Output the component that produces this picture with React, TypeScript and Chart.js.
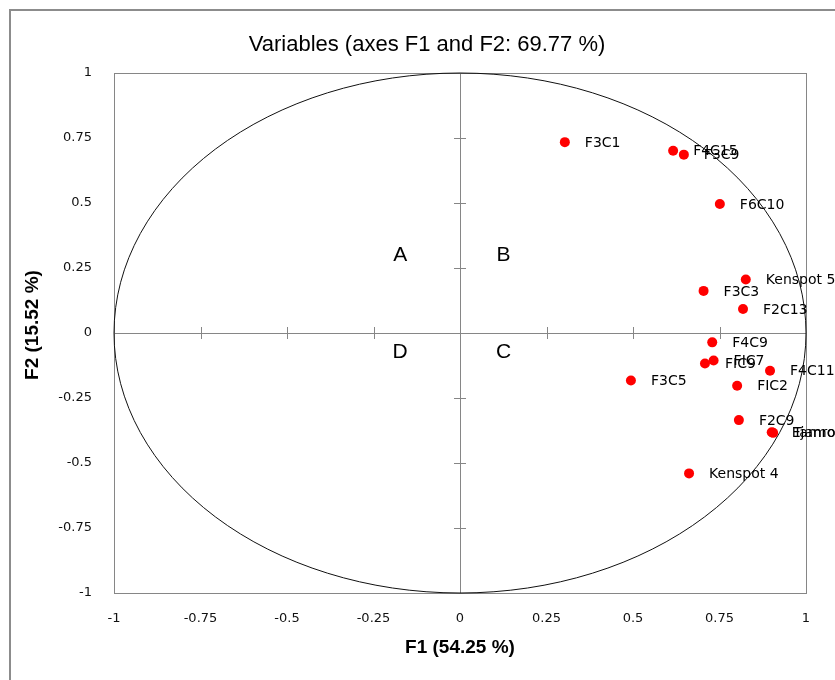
import React, { useEffect, useRef } from "react";
import { Chart, registerables } from "chart.js";

Chart.register(...registerables);

// ---- data ----
const variableNames = [
  "F3C1", "F4C15", "F3C9", "F6C10", "Kenspot 5", "F3C3", "F2C13", "F4C9",
  "FIC7", "FIC9", "F4C11", "FIC2", "F3C5", "F2C9", "Ejamole", "Tamroutle", "Kenspot 4",
];
const f1Values = [
  0.303, 0.616, 0.647, 0.751, 0.826, 0.704, 0.818, 0.729,
  0.733, 0.708, 0.896, 0.801, 0.494, 0.806, 0.901, 0.905, 0.662,
];
const f2Values = [
  0.734, 0.701, 0.686, 0.496, 0.206, 0.162, 0.092, -0.036,
  -0.106, -0.117, -0.145, -0.203, -0.183, -0.335, -0.382, -0.384, -0.54,
];
const tickValues = [-1, -0.75, -0.5, -0.25, 0, 0.25, 0.5, 0.75, 1];
const tickLabels = ["-1", "-0.75", "-0.5", "-0.25", "0", "0.25", "0.5", "0.75", "1"];
const quadrantNames = ["A", "B", "C", "D"];
const quadrantF1 = [-0.173, 0.126, 0.126, -0.173];
const quadrantF2 = [0.3, 0.3, -0.073, -0.073];
const chartTitle = "Variables (axes F1 and F2: 69.77 %)";
const xTitle = "F1 (54.25 %)";
const yTitle = "F2 (15.52 %)";

const GRAY = "#868686";

const decor = {
  id: "pcaDecor",
  beforeDatasetsDraw(chart: any) {
    const { ctx, chartArea: a, scales } = chart;
    const x = scales.x;
    const y = scales.y;
    const x0 = x.getPixelForValue(0);
    const y0 = y.getPixelForValue(0);
    ctx.save();
    ctx.strokeStyle = GRAY;
    ctx.lineWidth = 1;
    ctx.strokeRect(a.left + 0.5, a.top + 0.5, a.right - a.left, a.bottom - a.top);
    ctx.beginPath();
    ctx.moveTo(Math.round(x0) + 0.5, a.top);
    ctx.lineTo(Math.round(x0) + 0.5, a.bottom);
    ctx.moveTo(a.left, Math.round(y0) + 0.5);
    ctx.lineTo(a.right, Math.round(y0) + 0.5);
    tickValues.forEach((v) => {
      const px = Math.round(x.getPixelForValue(v)) + 0.5;
      ctx.moveTo(px, y0 - 6);
      ctx.lineTo(px, y0 + 6);
      const py = Math.round(y.getPixelForValue(v)) + 0.5;
      ctx.moveTo(x0 - 6, py);
      ctx.lineTo(x0 + 6, py);
    });
    ctx.stroke();
    // correlation circle
    ctx.strokeStyle = "#111";
    ctx.lineWidth = 1;
    ctx.beginPath();
    ctx.ellipse(x0, y0, x.getPixelForValue(1) - x0, y0 - y.getPixelForValue(1), 0, 0, Math.PI * 2);
    ctx.stroke();
    ctx.restore();
  },
  afterDatasetsDraw(chart: any) {
    const { ctx, scales } = chart;
    const x = scales.x;
    const y = scales.y;
    ctx.save();
    ctx.fillStyle = "#000";
    ctx.textBaseline = "middle";
    ctx.textAlign = "left";
    ctx.font = '14px "DejaVu Sans"';
    variableNames.forEach((n, i) => {
      ctx.fillText(n, x.getPixelForValue(f1Values[i]) + 20, y.getPixelForValue(f2Values[i]) + 1);
    });
    ctx.textAlign = "center";
    ctx.font = '21px "Liberation Sans"';
    quadrantNames.forEach((n, i) => {
      ctx.fillText(n, x.getPixelForValue(quadrantF1[i]), y.getPixelForValue(quadrantF2[i]));
    });
    ctx.restore();
  },
  afterDraw(chart: any) {
    const { ctx, chartArea: a } = chart;
    ctx.save();
    ctx.strokeStyle = "#8c8c8c";
    ctx.lineWidth = 2;
    ctx.beginPath();
    ctx.moveTo(10, chart.height);
    ctx.lineTo(10, 10);
    ctx.lineTo(chart.width, 10);
    ctx.stroke();
    ctx.fillStyle = "#000";
    ctx.textAlign = "center";
    ctx.textBaseline = "middle";
    ctx.font = '22px "Liberation Sans"';
    ctx.fillText(chartTitle, 427, 45);
    ctx.font = 'bold 19px "Liberation Sans"';
    ctx.fillText(xTitle, (a.left + a.right) / 2, 648);
    ctx.translate(33, 325);
    ctx.rotate(-Math.PI / 2);
    ctx.fillText(yTitle, 0, 0);
    ctx.restore();
  },
};

export default function App() {
  const ref = useRef<HTMLCanvasElement | null>(null);
  useEffect(() => {
    document.body.style.margin = "0";
    const canvas = ref.current;
    if (!canvas) return;
    const tickSetup = (scale: any) => {
      scale.ticks = tickValues.map((v) => ({ value: v }));
    };
    const chart = new Chart(canvas, {
      type: "scatter",
      data: {
        datasets: [
          {
            label: "Variables",
            data: f1Values.map((v, i) => ({ x: v, y: f2Values[i] })),
            backgroundColor: "#ff0000",
            borderColor: "#ff0000",
            borderWidth: 0,
            pointRadius: 5,
            pointHoverRadius: 5,
          },
        ],
      },
      options: {
        animation: false,
        responsive: false,
        devicePixelRatio: 1,
        layout: { padding: { left: 0, right: 29, top: 73, bottom: 0 } },
        plugins: { legend: { display: false }, tooltip: { enabled: false }, title: { display: false } },
        scales: {
          x: {
            type: "linear",
            min: -1,
            max: 1,
            grid: { display: false, drawTicks: false },
            border: { display: false },
            afterBuildTicks: tickSetup,
            afterFit: (s: any) => { s.height = 87; },
            ticks: {
              padding: 18,
              color: "#111",
              font: { family: "DejaVu Sans", size: 13 },
              maxRotation: 0,
              autoSkip: false,
              callback: (_v: any, i: number) => tickLabels[i],
            },
          },
          y: {
            type: "linear",
            min: -1,
            max: 1,
            grid: { display: false, drawTicks: false },
            border: { display: false },
            afterBuildTicks: tickSetup,
            afterFit: (s: any) => { s.width = 114; },
            ticks: {
              padding: 22,
              color: "#111",
              font: { family: "DejaVu Sans", size: 13 },
              autoSkip: false,
              callback: (_v: any, i: number) => tickLabels[i],
            },
          },
        },
      },
      plugins: [decor],
    });
    return () => chart.destroy();
  }, []);
  return (
    <div style={{ width: 835, height: 680, background: "#fff" }}>
      <canvas ref={ref} width={835} height={680} style={{ display: "block" }} />
    </div>
  );
}
